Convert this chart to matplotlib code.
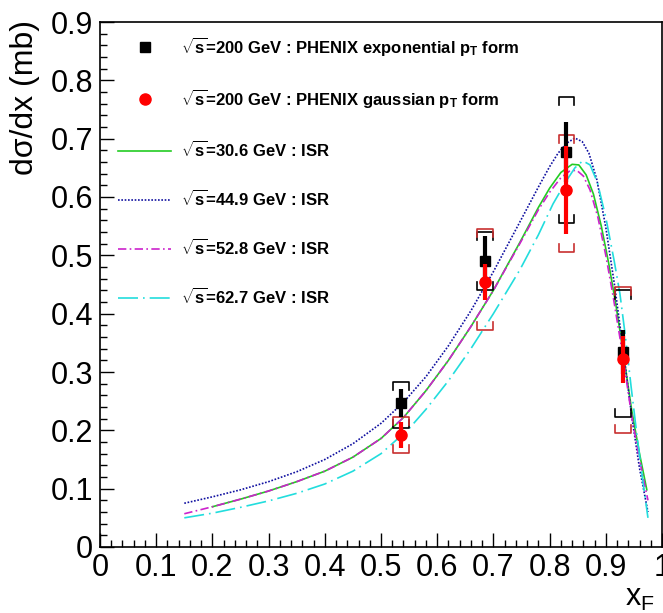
import numpy as np
import matplotlib
matplotlib.use('Agg')
import matplotlib.pyplot as plt
from matplotlib.lines import Line2D

# PHENIX points
xf = [0.535, 0.685, 0.83, 0.93]
exp_y = [0.247, 0.491, 0.677, 0.334]
exp_stat = [0.024, 0.042, 0.052, 0.038]
exp_sys_hi = [0.283, 0.540, 0.771, 0.440]
exp_sys_lo = [0.204, 0.440, 0.555, 0.223]
gau_y = [0.192, 0.454, 0.612, 0.322]
gau_stat = [0.022, 0.031, 0.075, 0.040]
gau_sys_hi = [0.223, 0.545, 0.706, 0.446]
gau_sys_lo = [0.161, 0.372, 0.506, 0.195]

# ISR curves
isr306_x = [0.20, 0.25, 0.30, 0.35, 0.40, 0.45, 0.50, 0.54, 0.58, 0.62, 0.66, 0.70, 0.747, 0.78,
            0.80, 0.82, 0.84, 0.852, 0.865, 0.878, 0.892, 0.905, 0.918, 0.93, 0.946, 0.96, 0.973]
isr306_y = [0.069, 0.082, 0.096, 0.112, 0.130, 0.154, 0.186, 0.222, 0.268, 0.320, 0.378, 0.440, 0.522, 0.582,
            0.615, 0.642, 0.656, 0.655, 0.638, 0.605, 0.550, 0.487, 0.415, 0.340, 0.235, 0.160, 0.098]
isr449_x = [0.15, 0.20, 0.25, 0.30, 0.35, 0.40, 0.45, 0.50, 0.54, 0.58, 0.62, 0.66, 0.70, 0.747, 0.78,
            0.80, 0.815, 0.83, 0.845, 0.858, 0.87, 0.884, 0.90, 0.916, 0.93, 0.946, 0.96, 0.975]
isr449_y = [0.075, 0.086, 0.098, 0.112, 0.129, 0.150, 0.177, 0.212, 0.248, 0.292, 0.345, 0.405, 0.472, 0.557, 0.617,
            0.652, 0.675, 0.692, 0.701, 0.695, 0.675, 0.630, 0.548, 0.446, 0.345, 0.225, 0.135, 0.060]
isr528_x = [0.15, 0.20, 0.25, 0.30, 0.35, 0.40, 0.45, 0.50, 0.54, 0.58, 0.62, 0.66, 0.70, 0.747, 0.78,
            0.80, 0.82, 0.835, 0.848, 0.86, 0.872, 0.886, 0.90, 0.913, 0.93, 0.946, 0.96, 0.975]
isr528_y = [0.057, 0.069, 0.082, 0.096, 0.112, 0.130, 0.154, 0.186, 0.222, 0.268, 0.320, 0.378, 0.440, 0.520, 0.578,
            0.608, 0.633, 0.644, 0.646, 0.636, 0.612, 0.565, 0.500, 0.430, 0.330, 0.225, 0.150, 0.080]
isr627_x = [0.15, 0.20, 0.25, 0.30, 0.35, 0.40, 0.45, 0.50, 0.55, 0.58, 0.62, 0.66, 0.70, 0.747, 0.78,
            0.806, 0.83, 0.845, 0.859, 0.872, 0.885, 0.90, 0.915, 0.925, 0.935, 0.945, 0.955, 0.965, 0.975]
isr627_y = [0.050, 0.058, 0.068, 0.079, 0.092, 0.108, 0.130, 0.160, 0.203, 0.236, 0.285, 0.340, 0.400, 0.475, 0.535,
            0.588, 0.628, 0.650, 0.662, 0.655, 0.625, 0.565, 0.490, 0.435, 0.360, 0.275, 0.195, 0.120, 0.050]

labels = [r'$\mathbf{\sqrt{s}}$=200 GeV : PHENIX exponential $\mathbf{p_T}$ form',
          r'$\mathbf{\sqrt{s}}$=200 GeV : PHENIX gaussian $\mathbf{p_T}$ form',
          r'$\mathbf{\sqrt{s}}$=30.6 GeV : ISR',
          r'$\mathbf{\sqrt{s}}$=44.9 GeV : ISR',
          r'$\mathbf{\sqrt{s}}$=52.8 GeV : ISR',
          r'$\mathbf{\sqrt{s}}$=62.7 GeV : ISR']

plt.rcParams['font.family'] = ['Liberation Sans', 'DejaVu Sans']
plt.rcParams['mathtext.fontset'] = 'custom'
plt.rcParams['mathtext.rm'] = 'Liberation Sans'
plt.rcParams['mathtext.bf'] = 'Liberation Sans:bold'

fig = plt.figure(figsize=(6.63, 6.13), dpi=100)
ax = fig.add_axes([100/663, 66/613, 562/663, 525/613])

c_blue = '#1010a0'
c_green = '#22cc22'
c_mag = '#cc22cc'
c_cyan = '#22dddd'
ax.plot(isr306_x, isr306_y, color=c_green, lw=1.2, ls='-')
ax.plot(isr449_x, isr449_y, color=c_blue, lw=1.2, ls=(0, (1, 1)))
ax.plot(isr528_x, isr528_y, color=c_mag, lw=1.2, ls=(0, (5, 2, 1, 2)))
ax.plot(isr627_x, isr627_y, color=c_cyan, lw=1.2, ls=(0, (12, 3, 1, 3)))

def brackets(x, hi, lo, color):
  hw = 0.014
  leg = 0.014
  for xi, h, l in zip(x, hi, lo):
    ax.plot([xi-hw, xi-hw, xi+hw, xi+hw], [h-leg, h, h, h-leg], color=color, lw=1.2, zorder=3)
    ax.plot([xi-hw, xi-hw, xi+hw, xi+hw], [l+leg, l, l, l+leg], color=color, lw=1.2, zorder=3)

brackets(xf, exp_sys_hi, exp_sys_lo, 'black')
brackets(xf, gau_sys_hi, gau_sys_lo, '#c83030')

ax.errorbar(xf, exp_y, yerr=exp_stat, fmt='s', color='black', ms=7.5, elinewidth=3, capsize=0, zorder=4)
ax.errorbar(xf, gau_y, yerr=gau_stat, fmt='o', color='red', ms=8, elinewidth=3, capsize=0, zorder=5)

ax.set_xlim(0, 1)
ax.set_ylim(0, 0.9)
ax.set_xticks(np.arange(0, 1.01, 0.1))
ax.set_xticklabels(['0', '0.1', '0.2', '0.3', '0.4', '0.5', '0.6', '0.7', '0.8', '0.9', '1'])
ax.set_yticks(np.arange(0, 0.91, 0.1))
ax.set_yticklabels(['0', '0.1', '0.2', '0.3', '0.4', '0.5', '0.6', '0.7', '0.8', '0.9'])
ax.set_xticks(np.arange(0, 1.001, 0.02), minor=True)
ax.set_yticks(np.arange(0, 0.901, 0.02), minor=True)
ax.tick_params(which='both', direction='in', top=False, right=False, labelsize=22, width=1)
ax.tick_params(which='major', length=10)
ax.tick_params(which='minor', length=5)
ax.tick_params(axis='x', pad=4)
ax.tick_params(axis='y', pad=5)
for s in ax.spines.values():
  s.set_linewidth(1.2)

fig.text(640/663, 1-598/613, r'x$_\mathrm{F}$', fontsize=22, ha='center', va='center')
fig.text(25/663, 1-20/613, 'dσ/dx (mb)', fontsize=23, rotation=90, ha='center', va='top')

handles = [Line2D([], [], marker='s', color='black', ls='none', ms=7.5),
           Line2D([], [], marker='o', color='red', ls='none', ms=8),
           Line2D([], [], color=c_green, lw=1.2),
           Line2D([], [], color=c_blue, lw=1.2, ls=(0, (1, 1))),
           Line2D([], [], color=c_mag, lw=1.2, ls=(0, (5, 2, 1, 2))),
           Line2D([], [], color=c_cyan, lw=1.2, ls=(0, (12, 3, 1, 3)))]
leg = ax.legend(handles, labels, loc='upper left', bbox_to_anchor=(0.032, 0.975), frameon=False,
                prop={'weight': 'bold', 'size': 12},
                handlelength=3.2, handletextpad=0.6, labelspacing=1.75, borderpad=0, borderaxespad=0)

fig.savefig('out.png', dpi=100)
